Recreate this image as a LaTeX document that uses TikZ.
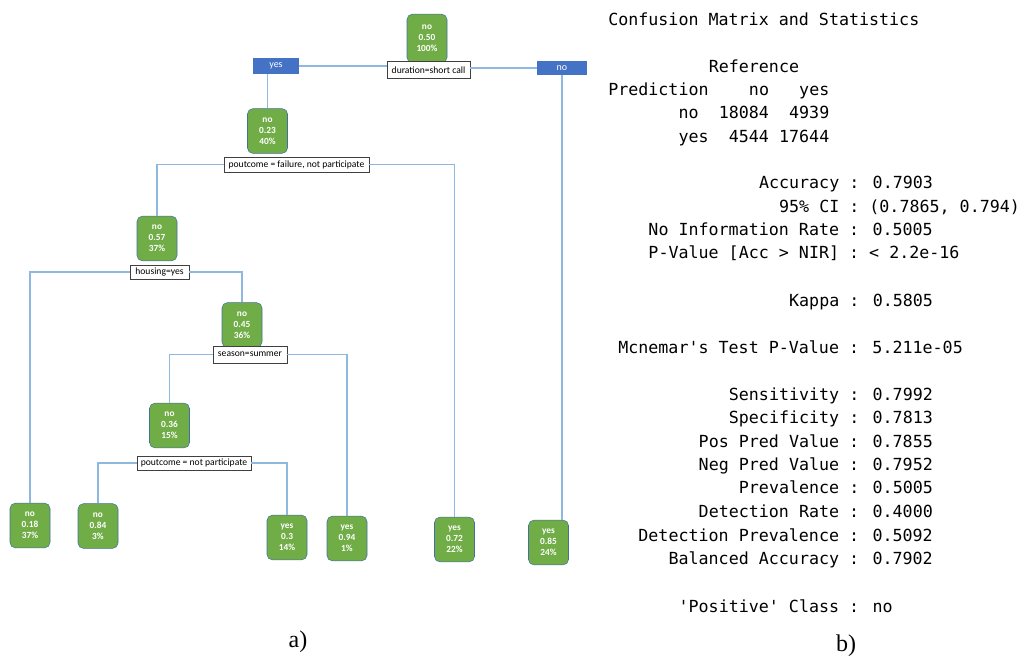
\documentclass[tikz,border=0pt]{standalone}
\usepackage{fontspec}
\setmainfont{Carlito}
\newfontfamily\consfont{DejaVu Sans Mono}
\newfontfamily\capfont{Liberation Serif}
\definecolor{leafgreen}{HTML}{70AD47}
\definecolor{splitblue}{HTML}{4472C4}
\definecolor{edgeblue}{HTML}{8FB8E0}
\definecolor{nodeline}{HTML}{41719C}
\tikzset{
	tnode/.style={draw=nodeline, fill=leafgreen, rounded corners=4pt, text=white,
		minimum width=30pt, minimum height=33.5pt, inner sep=0pt, align=center,
		font=\fontsize{7}{8.2}\selectfont\bfseries},
	cond/.style={draw=black!75, fill=white, inner sep=0pt, minimum height=11pt,
		font=\fontsize{7.2}{8}\selectfont},
	branch/.style={fill=splitblue, text=white, inner sep=0pt, minimum height=12pt,
		font=\fontsize{7.5}{8}\selectfont},
	edge/.style={draw=edgeblue, line width=0.9pt},
	stat/.style={anchor=base west, inner sep=0pt, font=\consfont\fontsize{12.5}{14}\selectfont},
}
\begin{document}
\begin{tikzpicture}[x=0.75pt, y=-0.75pt]
		\useasboundingbox (0, 0) rectangle (1023, 657);
		% tree
		\node[tnode, minimum height=36.5pt] (n1) at (427, 38.5) {no\\0.50\\100\%};
		\node[cond, minimum width=62pt, minimum height=13pt] (l1) at (428.5, 70) {duration=short call};
		\node[branch, minimum width=34.5pt] (yesbar) at (276, 66) {yes};
		\node[branch, minimum width=37.5pt, minimum height=10.5pt] (nobar) at (562, 68) {no};
		\node[tnode] (n2) at (267.5, 131) {no\\0.23\\40\%};
		\node[cond, minimum width=109pt] (l2) at (296.5, 164.5) {poutcome = failure, not participate};
		\node[tnode] (n3) at (157, 238.5) {no\\0.57\\37\%};
		\node[cond, minimum width=44pt, minimum height=10.5pt] (l3) at (159.5, 272) {housing=yes};
		\node[tnode] (n4) at (242, 325) {no\\0.45\\36\%};
		\node[cond, minimum width=55.5pt, minimum height=12.5pt] (l4) at (250, 354.5) {season=summer};
		\node[tnode] (n5) at (169.5, 425.5) {no\\0.36\\15\%};
		\node[cond, minimum width=85.5pt, minimum height=10.5pt] (l5) at (194, 463) {poutcome = not participate};
		\node[tnode] (leafA) at (30, 525.5) {no\\0.18\\37\%};
		\node[tnode] (leafB) at (98, 526) {no\\0.84\\3\%};
		\node[tnode] (leafC) at (287, 537.5) {yes\\0.3\\14\%};
		\node[tnode] (leafD) at (347, 538.5) {yes\\0.94\\1\%};
		\node[tnode] (leafE) at (454.5, 539.5) {yes\\0.72\\22\%};
		\node[tnode] (leafF) at (548.5, 542.5) {yes\\0.85\\24\%};
		\draw[edge] (yesbar.east) -- (yesbar.east -| l1.west);
		\draw[edge] (l1.east |- nobar.west) -- (nobar.west);
		\draw[edge] (n2.north |- yesbar.south) -- (n2.north);
		\draw[edge] (nobar.south) -- (nobar.south |- leafF.north);
		\draw[edge] (l2.west) -| (n3.north);
		\draw[edge] (l2.east) -| (leafE.north);
		\draw[edge] (l3.west) -| (leafA.north);
		\draw[edge] (l3.east) -| (n4.north);
		\draw[edge] (l4.west) -| (n5.north);
		\draw[edge] (l4.east) -| (leafD.north);
		\draw[edge] (l5.west) -| (leafB.north);
		\draw[edge] (l5.east) -| (leafC.north);
		% statistics
		\foreach \c/\y/\t [count=\k] in {0/25/Confusion Matrix and Statistics, 10/72/Reference,
			0/95/Prediction, 14/95/no, 19/95/yes,
			7/118/no, 11/118/18084, 18/118/4939,
			7/142/yes, 12/142/4544, 17/142/17644,
			15/188/Accuracy : 0.7903, 17/212/{95\% CI : (0.7865, 0.794)},
			4/235/No Information Rate : 0.5005, 4/258/{P-Value [Acc > NIR] : < 2.2e-16},
			18/306/Kappa : 0.5805, 1/353/Mcnemar\textquotesingle{}s Test P-Value : 5.211e-05,
			12/400/Sensitivity : 0.7992, 12/423/Specificity : 0.7813,
			9/447/Pos Pred Value : 0.7855, 9/470/Neg Pred Value : 0.7952,
			13/493/Prevalence : 0.5005, 9/517/Detection Rate : 0.4000,
			3/541/Detection Prevalence : 0.5092, 6/564/Balanced Accuracy : 0.7902,
			7/612/\textquotesingle{}Positive\textquotesingle{} Class : no}
			\node[stat] (st\k) at ({608 + \c*10.05}, \y) {\t};
		% captions
		\node[anchor=base, inner sep=0pt, font=\capfont\fontsize{18}{20}\selectfont] (capa) at (298, 647) {a)};
		\node[anchor=base, inner sep=0pt, font=\capfont\fontsize{18}{20}\selectfont] (capb) at (846, 651) {b)};
	\end{tikzpicture}
\end{document}
